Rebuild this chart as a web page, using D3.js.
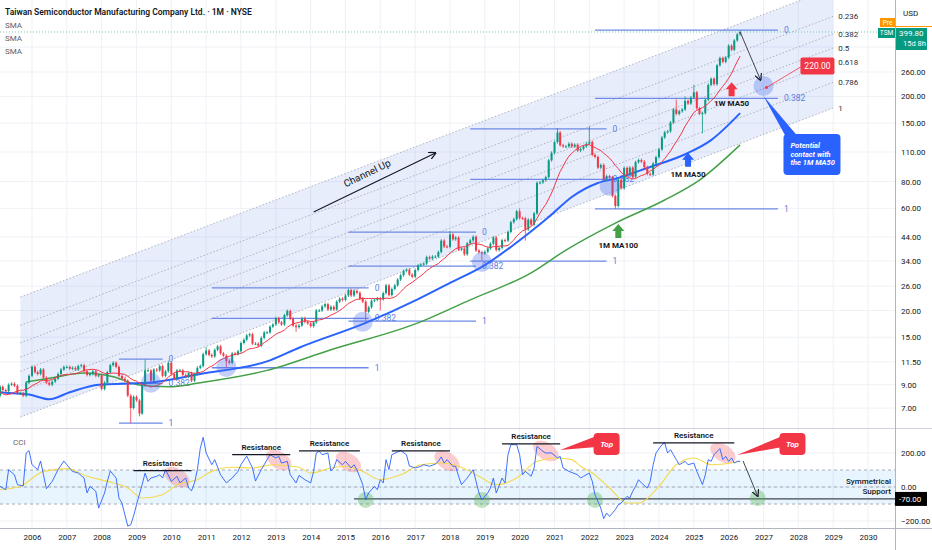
<!DOCTYPE html>
<html>
<head>
<meta charset="utf-8">
<script src="https://cdn.jsdelivr.net/npm/d3@7"></script>
<style>
body { margin: 0; background: #fff; }
svg { display: block; font-family: Roboto, "Noto Sans", sans-serif; }
</style>
</head>
<body>
<svg id="chart" width="932" height="550"></svg>
<script>
// monthly closes, Jan 2004 .. May 2026 (2004 only feeds the 1W MA50 line)
var closes = [
  10.2, 10.3, 10.4, 9.4, 8.6, 8.3, 7.3, 7.2, 7.1, 8.0, 8.2, 8.5,
  8.0, 8.8, 8.5, 8.4, 9.0, 9.1, 8.9, 8.2, 8.2, 8.0, 9.2, 9.9,
  10.9, 10.3, 10.1, 10.6, 9.7, 9.2, 9.0, 9.3, 9.6, 10.1, 10.6, 10.9,
  10.9, 10.7, 10.8, 10.6, 11.0, 11.1, 10.4, 10.0, 10.1, 10.4, 9.9, 9.96,
  8.6, 9.2, 10.3, 11.1, 11.4, 10.9, 9.9, 9.6, 9.4, 8.0, 7.0, 7.9,
  7.6, 6.6, 8.95, 10.5, 10.5, 9.4, 10.6, 10.5, 11.0, 9.9, 10.4, 11.4,
  10.1, 9.6, 10.5, 10.5, 10.0, 9.8, 10.2, 9.4, 10.1, 10.8, 11.0, 12.5,
  13.0, 12.4, 12.2, 13.1, 13.6, 12.6, 12.3, 11.6, 11.4, 12.6, 12.5, 12.9,
  14.1, 14.6, 15.3, 15.5, 14.0, 14.0, 13.7, 14.9, 15.8, 15.8, 16.8, 17.2,
  18.4, 17.6, 17.2, 19.0, 19.9, 18.3, 17.0, 16.7, 17.0, 18.4, 17.7, 17.4,
  16.9, 17.6, 20.0, 20.0, 20.9, 21.4, 20.2, 20.8, 20.2, 22.0, 22.7, 22.4,
  23.5, 24.9, 23.5, 24.7, 24.2, 22.7, 22.0, 19.7, 20.7, 22.2, 22.4, 22.75,
  22.6, 24.1, 26.2, 23.6, 25.2, 26.2, 27.9, 29.2, 30.6, 31.0, 29.4, 28.75,
  30.9, 32.5, 32.8, 33.1, 35.5, 35.0, 35.7, 35.7, 37.5, 42.4, 39.8, 39.65,
  45.3, 43.0, 43.8, 38.5, 38.9, 36.6, 41.2, 42.5, 44.2, 38.1, 37.4, 36.9,
  37.6, 39.0, 41.0, 43.8, 38.3, 39.2, 42.6, 42.4, 46.5, 51.7, 53.4, 58.1,
  54.0, 53.9, 47.8, 53.1, 50.3, 56.8, 78.9, 79.3, 81.1, 83.9, 100.6, 109.0,
  122.3, 135.6, 118.3, 116.8, 116.8, 120.2, 116.6, 119.0, 111.6, 113.7, 116.8, 120.3,
  122.6, 106.6, 104.3, 92.9, 95.7, 81.8, 84.8, 83.7, 68.6, 61.5, 81.7, 74.5,
  92.7, 85.9, 93.0, 84.3, 98.6, 100.9, 99.2, 93.5, 86.9, 86.3, 97.2, 104.0,
  113.0, 128.6, 136.0, 137.3, 151.1, 173.8, 165.7, 170.5, 173.7, 190.6, 185.2, 197.5,
  209.0, 176.0, 166.0, 167.0, 193.0, 226.5, 241.6, 228.0, 279.3, 302.0, 290.0, 304.0,
  345.0, 330.0, 365.0, 390.0, 399.8
];
var lastPrice = 399.8;

// notable wick extremes
var wickHighMonths = ["2009-04", "2011-01", "2018-01", "2020-01", "2021-02", "2022-01", "2024-07", "2024-10", "2025-01", "2026-05"];
var wickHighValues = [11.8, 13.5, 47.0, 60.0, 142.2, 145.0, 193.5, 200.0, 226.4, 408];
var wickLowMonths = ["2008-11", "2009-02", "2011-08", "2013-08", "2015-08", "2016-01", "2018-12", "2020-03", "2022-10", "2025-04"];
var wickLowValues = [5.96, 6.4, 10.8, 15.9, 17.9, 20.0, 34.2, 42.4, 59.6, 134.3];

// 1M MA50 (blue) and 1M MA100 (green)
var ma50Months = ["2004-11", "2005-02", "2005-12", "2006-07", "2007-02", "2007-12", "2009-05", "2010-11", "2012-11", "2013-09", "2015-08", "2017-02", "2018-01", "2019-01", "2019-10", "2020-11", "2021-07", "2022-04", "2022-11", "2023-09", "2024-11", "2025-07", "2026-05"];
var ma50Values = [8.4, 8.3, 8.1, 7.7, 8.3, 9.0, 9.2, 10.1, 11.7, 13.4, 17.5, 22.6, 26.9, 32.6, 39.6, 54.6, 67.8, 78.8, 83.2, 92.6, 108.8, 125, 167];
var ma100Months = ["2005-11", "2006-08", "2007-07", "2008-05", "2009-02", "2009-12", "2010-11", "2012-10", "2014-08", "2017-02", "2018-08", "2020-05", "2021-05", "2022-10", "2024-03", "2025-03", "2026-05"];
var ma100Values = [9.26, 9.7, 10.2, 9.8, 8.97, 8.8, 9.2, 10.5, 13.1, 17.5, 22.4, 30, 38.3, 51.2, 65.6, 81.3, 118.7];

// CCI readings, months counted from Jan 2005
var cciMonths = [1,3,4,6,7,9,10,11,12,14,15,16,17,19,21,23,24,26,28,30,31,32,34,35,37,38,39,41,42,43,45,46,47,48,50,51,52,53,55,56,57,58,60,62,63,65,66,67,68,69,70,71,72,74,75,77,79,81,83,84,86,88,89,91,93,94,96,97,98,100,101,103,104,106,108,109,110,111,112,114,115,116,117,119,120,122,123,124,126,127,128,130,131,132,133,134,135,136,138,139,141,142,144,146,147,149,151,152,153,154,155,157,158,159,160,162,164,165,166,167,169,170,171,172,174,175,176,177,179,180,181,182,184,185,186,188,189,191,193,194,195,197,200,201,202,204,205,206,208,209,210,211,212,213,214,215,217,218,219,220,221,222,224,225,226,227,229,230,231,232,233,235,236,237,238,240,241,243,244,245,246,247,249,250,251,252,253,254,255,256];
var cciValues = [4,-16,102,72,14,6,200,214,131,102,153,72,-10,33,102,153,131,92,82,53,-35,4,-25,-124,-35,33,94,53,-65,-94,-230,-222,-171,-104,14,82,33,53,63,72,53,102,33,63,24,53,-6,-22,24,102,229,292,200,131,161,72,24,53,92,131,182,112,35,102,161,190,171,180,141,151,72,24,68,43,24,92,200,210,190,200,94,112,161,131,151,112,131,102,14,-75,-35,4,-16,43,24,161,102,190,206,214,190,124,112,122,131,122,135,151,177,141,161,122,122,63,14,53,102,33,-35,-75,-35,-6,53,-35,53,24,190,249,249,190,72,92,63,112,239,210,200,200,171,180,112,92,72,53,63,82,33,-45,-124,-186,-153,-173,-153,-133,-104,-94,-55,-65,-25,4,43,24,-6,33,131,200,249,259,200,220,190,131,141,151,131,141,92,14,72,161,151,190,226,161,180,151,171,141,151,151];
var signalMonths = [1,8,16,24,31,38,45,50,57,62,69,74,81,88,95,101,104,108,115,120,126,132,139,146,153,159,166,172,179,186,193,198,201,205,211,217,221,228,234,240,246,253,256];
var signalValues = [-16,4,92,108,63,33,-6,-65,-45,14,43,92,116,112,131,122,116,82,112,122,92,43,72,131,141,122,63,14,53,151,171,161,122,82,-6,-94,-94,4,131,171,131,141,151];

// axes (340 sits under the TSM tag in the original, so it is left out)
var yearTicks = [2006,2007,2008,2009,2010,2011,2012,2013,2014,2015,2016,2017,2018,2019,2020,2021,2022,2023,2024,2025,2026,2027,2028,2029,2030];
var priceTicks = [260, 200, 150, 110, 80, 60, 44, 34, 26, 20, 15, 11.5, 9, 7];
var gridPrices = [340, 260, 200, 150, 110, 80, 60, 44, 34, 26, 20, 15, 11.5, 9, 7];
var cciTicks = [200, 0, -200];
var cciBand = [100, -100];

// parallel channel
var channelMonths = ["2005-09", "2029-01"];
var channelTop = [23.1, 642];
var channelBottom = [6.35, 176.6];
var channelLevels = [0, 0.236, 0.382, 0.5, 0.618, 0.786, 1];

// fib retracements, one per cycle
var fibStart = ["2008-07", "2011-03", "2015-02", "2018-08", "2022-03"];
var fibEnd = ["2009-10", "2015-09", "2018-10", "2022-07", "2027-06"];
var fibHigh = [11.86, 25.5, 46.5, 141, 408];
var fibLow = [5.96, 10.8, 17.85, 34.0, 59.6];
var fibLevels = [0, 0.382, 1];

// MA contact circles
var contactMonths = ["2009-06", "2011-08", "2015-07", "2018-12", "2022-08", "2027-01"];
var contactPrices = [9.2, 10.9, 17.7, 33.7, 76.3, 223.7];

var maTags = ["1W MA50", "1M MA50", "1M MA100"];
var maTagMonths = ["2026-02", "2024-11", "2022-11"];
var maTagPrices = [233, 109, 50.7];
var maTagColors = ["#f23645", "#2962ff", "#43a047"];

var channelArrowMonths = ["2014-02", "2017-08"];
var channelArrowPrices = [57.7, 108.8];
var projectionMonths = ["2026-05", "2026-12"];
var projectionPrices = [400, 238.6];
var targetMonth = "2027-02", targetPrice = 220;
var calloutMonth = "2027-01", calloutPrice = 201;

// CCI drawings
var resStart = ["2008-12", "2011-10", "2013-09", "2016-05", "2019-07", "2023-11"];
var resEnd = ["2010-08", "2013-06", "2015-06", "2018-01", "2021-03", "2026-03"];
var resLevel = [96, 190, 213, 213, 254, 259];
var topZoneMonths = ["2010-03", "2013-02", "2015-02", "2017-12", "2020-10", "2025-11"];
var topZoneValues = [59, 159, 147, 153, 212, 200];
var bottomZoneMonths = ["2015-08", "2018-12", "2022-03", "2026-11"];
var bottomZoneValues = [-76, -76, -76, -65];
var supportStart = "2015-04", supportLevel = -70;
var cciArrowMonths = ["2026-06", "2026-11"];
var cciArrowValues = [153, -53];
var topTipMonths = ["2021-03", "2026-04"];
var topTipValues = [218, 188];
var topBoxMonths = ["2022-07", "2027-11"];
var topBoxValue = 253;

function md(s) { var p = s.split("-"); return new Date(+p[0], +p[1] - 1, 1); }

var plotRight = 895, mainBottom = 428, cciBottom = 528;

var x = d3.scaleTime().domain([new Date(2006, 0, 1), new Date(2030, 0, 1)]).range([32, 868]);
var y = d3.scaleLog().domain([5.65, 564]).range([mainBottom, 0]);
var yc = d3.scaleLinear().domain([-241, 347]).range([cciBottom, mainBottom]);

var svg = d3.select("#chart");
svg.append("rect").attr("width", 932).attr("height", 550).attr("fill", "#fff");

var defs = svg.append("defs");
defs.append("clipPath").attr("id", "clipMain").append("rect")
    .attr("x", 0).attr("y", 0).attr("width", plotRight).attr("height", mainBottom);
defs.append("clipPath").attr("id", "clipCci").append("rect")
    .attr("x", 0).attr("y", mainBottom).attr("width", plotRight).attr("height", cciBottom - mainBottom);
defs.append("marker").attr("id", "head").attr("viewBox", "0 0 8 8").attr("refX", 7).attr("refY", 4)
    .attr("markerWidth", 7).attr("markerHeight", 7).attr("orient", "auto")
  .append("path").attr("d", "M0,0 L8,4 L0,8").attr("fill", "none").attr("stroke", "#131722").attr("stroke-width", 1.3);

// grid
var grid = svg.append("g").attr("stroke", "#eef1f6").attr("stroke-width", 1);
yearTicks.forEach(function (yr) {
    grid.append("line").attr("x1", x(new Date(yr, 0, 1))).attr("x2", x(new Date(yr, 0, 1)))
        .attr("y1", 0).attr("y2", cciBottom);
});
gridPrices.forEach(function (p) {
    grid.append("line").attr("x1", 0).attr("x2", plotRight).attr("y1", y(p)).attr("y2", y(p));
});
cciTicks.forEach(function (v) {
    grid.append("line").attr("x1", 0).attr("x2", plotRight).attr("y1", yc(v)).attr("y2", yc(v));
});

var main = svg.append("g").attr("clip-path", "url(#clipMain)");

// channel
var cx0 = x(md(channelMonths[0])), cx1 = x(md(channelMonths[1]));
var cTop0 = y(channelTop[0]), cTop1 = y(channelTop[1]);
var cBot0 = y(channelBottom[0]), cBot1 = y(channelBottom[1]);
main.append("path")
    .attr("d", "M" + cx0 + "," + cTop0 + "L" + cx1 + "," + cTop1 + "L" + cx1 + "," + cBot1 + "L" + cx0 + "," + cBot0 + "Z")
    .attr("fill", "rgba(80,115,230,0.13)");
channelLevels.forEach(function (lv) {
    var ya = cTop0 + lv * (cBot0 - cTop0), yb = cTop1 + lv * (cBot1 - cTop1);
    main.append("line").attr("x1", cx0).attr("y1", ya).attr("x2", cx1).attr("y2", yb)
        .attr("stroke", "#9da1ad").attr("stroke-width", 0.8).attr("stroke-dasharray", "1.5,2");
    if (lv > 0) {
        svg.append("text").attr("x", cx1 + 5).attr("y", yb + 3).attr("font-size", 8)
            .attr("fill", "#2a2e39").text(String(lv));
    }
});

// last price dotted line
main.append("line").attr("x1", 0).attr("x2", plotRight).attr("y1", y(lastPrice)).attr("y2", y(lastPrice))
    .attr("stroke", "#7cc8a8").attr("stroke-width", 1).attr("stroke-dasharray", "1,2");

// fib retracements
fibStart.forEach(function (s, i) {
    var xa = x(md(s)), xb = x(md(fibEnd[i]));
    var lh = Math.log(fibHigh[i]), ll = Math.log(fibLow[i]);
    fibLevels.forEach(function (lv) {
        var yy = y(Math.exp(lh + lv * (ll - lh)));
        main.append("line").attr("x1", xa).attr("x2", xb).attr("y1", yy).attr("y2", yy)
            .attr("stroke", "#6d8ae6").attr("stroke-width", 1.3);
        main.append("text").attr("x", xb + 6).attr("y", yy + 3).attr("font-size", 8.5)
            .attr("fill", "#5b7ee0").text(String(lv));
    });
});

// moving averages
var lineMonthly = d3.line().curve(d3.curveMonotoneX)
    .x(function (d) { return x(d[0]); }).y(function (d) { return y(d[1]); });
main.append("path").datum(ma100Months.map(function (m, i) { return [md(m), ma100Values[i]]; }))
    .attr("d", lineMonthly).attr("fill", "none").attr("stroke", "#43a047").attr("stroke-width", 1.5);
main.append("path").datum(ma50Months.map(function (m, i) { return [md(m), ma50Values[i]]; }))
    .attr("d", lineMonthly).attr("fill", "none").attr("stroke", "#2962ff").attr("stroke-width", 2);

// candles
var highMap = {}, lowMap = {};
wickHighMonths.forEach(function (m, i) { highMap[m] = wickHighValues[i]; });
wickLowMonths.forEach(function (m, i) { lowMap[m] = wickLowValues[i]; });
var candles = closes.map(function (c, i) {
    var d = new Date(2004, i, 1);
    var key = d.getFullYear() + "-" + String(d.getMonth() + 1).padStart(2, "0");
    var o = i > 0 ? closes[i - 1] : c;
    return { date: d, open: o, close: c,
             high: highMap[key] || Math.max(o, c), low: lowMap[key] || Math.min(o, c) };
});
var cg = main.append("g");
candles.forEach(function (d) {
    var cx = x(d.date);
    var col = d.close >= d.open ? "#089981" : "#f23645";
    var yTop = y(Math.max(d.open, d.close)), yBot = y(Math.min(d.open, d.close));
    cg.append("line").attr("x1", cx).attr("x2", cx)
        .attr("y1", Math.min(y(d.high), yTop - 1.5)).attr("y2", Math.max(y(d.low), yBot + 1.5))
        .attr("stroke", col).attr("stroke-width", 0.8);
    cg.append("rect").attr("x", cx - 1).attr("width", 2)
        .attr("y", yTop).attr("height", Math.max(1, yBot - yTop)).attr("fill", col);
});

// 1W MA50 approximated on monthly closes
var redPts = [];
closes.forEach(function (c, i) {
    if (i >= 11) {
        redPts.push([new Date(2004, i, 1), d3.mean(closes.slice(i - 11, i + 1))]);
    }
});
main.append("path").datum(redPts)
    .attr("d", d3.line().x(function (d) { return x(d[0]); }).y(function (d) { return y(d[1]); }))
    .attr("fill", "none").attr("stroke", "#f23645").attr("stroke-width", 1);

// contact circles
contactMonths.forEach(function (m, i) {
    main.append("circle").attr("cx", x(md(m))).attr("cy", y(contactPrices[i])).attr("r", 10)
        .attr("fill", "rgba(70,110,235,0.32)");
});

// MA arrow tags
maTags.forEach(function (t, i) {
    var tx = x(md(maTagMonths[i])), ty = y(maTagPrices[i]);
    main.append("path")
        .attr("d", "M" + tx + "," + ty + "l6,7 l-3,0 l0,7 l-6,0 l0,-7 l-3,0 Z")
        .attr("fill", maTagColors[i]);
    main.append("text").attr("x", tx).attr("y", ty + 24).attr("text-anchor", "middle")
        .attr("font-size", 8).attr("font-weight", 700).attr("fill", "#131722").text(t);
});

// channel up arrow and text
var ca0 = [x(md(channelArrowMonths[0])), y(channelArrowPrices[0])];
var ca1 = [x(md(channelArrowMonths[1])), y(channelArrowPrices[1])];
main.append("line").attr("x1", ca0[0]).attr("y1", ca0[1]).attr("x2", ca1[0]).attr("y2", ca1[1])
    .attr("stroke", "#131722").attr("stroke-width", 1.1).attr("marker-end", "url(#head)");
var ang = Math.atan2(ca1[1] - ca0[1], ca1[0] - ca0[0]);
var midX = (ca0[0] + ca1[0]) / 2 + Math.sin(ang) * 9 - 2, midY = (ca0[1] + ca1[1]) / 2 - Math.cos(ang) * 9 + 2;
main.append("text").attr("transform", "translate(" + midX + "," + midY + ") rotate(" + (ang * 180 / Math.PI) + ")")
    .attr("text-anchor", "middle").attr("font-size", 10).attr("fill", "#131722").text("Channel Up");

// projection arrow to target
var pr0 = [x(md(projectionMonths[0])), y(projectionPrices[0])];
var pr1 = [x(md(projectionMonths[1])), y(projectionPrices[1])];
main.append("line").attr("x1", pr0[0]).attr("y1", pr0[1]).attr("x2", pr1[0]).attr("y2", pr1[1])
    .attr("stroke", "#434651").attr("stroke-width", 1).attr("marker-end", "url(#head)");

// target label
var tg = [x(md(targetMonth)), y(targetPrice)];
main.append("line").attr("x1", tg[0]).attr("y1", tg[1]).attr("x2", tg[0] + 35).attr("y2", tg[1] - 21)
    .attr("stroke", "#f23645").attr("stroke-width", 0.8);
main.append("circle").attr("cx", tg[0]).attr("cy", tg[1]).attr("r", 1.5).attr("fill", "#f23645");
main.append("rect").attr("x", tg[0] + 34).attr("y", tg[1] - 30).attr("width", 34).attr("height", 17)
    .attr("rx", 2).attr("fill", "#f23645");
main.append("text").attr("x", tg[0] + 51).attr("y", tg[1] - 18.5).attr("text-anchor", "middle")
    .attr("font-size", 8.5).attr("fill", "#fff").text(targetPrice.toFixed(2));

// callout
var co = [x(md(calloutMonth)), y(calloutPrice)];
main.append("path").attr("d", "M" + co[0] + "," + co[1] + "L" + (co[0] + 22) + "," + (co[1] + 40) + "L" + (co[0] + 34) + "," + (co[1] + 40) + "Z")
    .attr("fill", "#2962ff");
main.append("rect").attr("x", co[0] + 20).attr("y", co[1] + 38).attr("width", 57).attr("height", 41)
    .attr("rx", 4).attr("fill", "#2962ff");
["Potential", "contact with", "the 1M MA50"].forEach(function (t, i) {
    main.append("text").attr("x", co[0] + 27).attr("y", co[1] + 52 + i * 8.7)
        .attr("font-size", 7.5).attr("font-weight", 700).attr("font-style", "italic")
        .attr("fill", "#fff").text(t);
});

// ---- CCI pane ----
var cci = svg.append("g").attr("clip-path", "url(#clipCci)");
cci.append("rect").attr("x", 0).attr("width", plotRight)
    .attr("y", yc(cciBand[0])).attr("height", yc(cciBand[1]) - yc(cciBand[0]))
    .attr("fill", "rgba(33,150,243,0.1)");
[cciBand[0], 0, cciBand[1]].forEach(function (v) {
    cci.append("line").attr("x1", 0).attr("x2", plotRight).attr("y1", yc(v)).attr("y2", yc(v))
        .attr("stroke", "#9598a1").attr("stroke-width", 0.8).attr("stroke-dasharray", "3,3");
});
cci.append("line").attr("x1", x(md(supportStart))).attr("x2", plotRight)
    .attr("y1", yc(supportLevel)).attr("y2", yc(supportLevel))
    .attr("stroke", "#434651").attr("stroke-width", 1.3);

topZoneMonths.forEach(function (m, i) {
    cci.append("ellipse").attr("transform", "translate(" + x(md(m)) + "," + yc(topZoneValues[i]) + ") rotate(32)")
        .attr("rx", 14).attr("ry", 8.5).attr("fill", "rgba(242,54,69,0.25)");
});
bottomZoneMonths.forEach(function (m, i) {
    cci.append("circle").attr("cx", x(md(m))).attr("cy", yc(bottomZoneValues[i])).attr("r", 8)
        .attr("fill", "rgba(76,175,80,0.35)");
});

var base2005 = function (i) { return new Date(2005, i, 1); };
cci.append("path").datum(signalMonths.map(function (m, i) { return [base2005(m), signalValues[i]]; }))
    .attr("d", d3.line().curve(d3.curveMonotoneX).x(function (d) { return x(d[0]); }).y(function (d) { return yc(d[1]); }))
    .attr("fill", "none").attr("stroke", "#f5d94e").attr("stroke-width", 1.1);
cci.append("path").datum(cciMonths.map(function (m, i) { return [base2005(m), cciValues[i]]; }))
    .attr("d", d3.line().x(function (d) { return x(d[0]); }).y(function (d) { return yc(d[1]); }))
    .attr("fill", "none").attr("stroke", "#2962ff").attr("stroke-width", 0.9);

resStart.forEach(function (s, i) {
    var xa = x(md(s)), xb = x(md(resEnd[i])), yy = yc(resLevel[i]);
    cci.append("line").attr("x1", xa).attr("x2", xb).attr("y1", yy).attr("y2", yy)
        .attr("stroke", "#131722").attr("stroke-width", 1.3);
    cci.append("text").attr("x", (xa + xb) / 2).attr("y", yy - 5).attr("text-anchor", "middle")
        .attr("font-size", 8).attr("font-weight", 600).attr("fill", "#131722").text("Resistance");
});

topTipMonths.forEach(function (m, i) {
    var tx = x(md(m)), ty = yc(topTipValues[i]);
    var bx = x(md(topBoxMonths[i])), by = yc(topBoxValue);
    cci.append("path").attr("d", "M" + tx + "," + ty + "L" + (bx - 10) + "," + (by - 8) + "L" + (bx - 10) + "," + (by + 3) + "Z")
        .attr("fill", "#f23645");
    cci.append("rect").attr("x", bx - 13).attr("y", by - 11).attr("width", 26).attr("height", 22)
        .attr("rx", 4).attr("fill", "#f23645");
    cci.append("text").attr("x", bx).attr("y", by + 3).attr("text-anchor", "middle")
        .attr("font-size", 8).attr("font-weight", 700).attr("font-style", "italic")
        .attr("fill", "#fff").text("Top");
});

cci.append("line")
    .attr("x1", x(md(cciArrowMonths[0]))).attr("y1", yc(cciArrowValues[0]))
    .attr("x2", x(md(cciArrowMonths[1]))).attr("y2", yc(cciArrowValues[1]))
    .attr("stroke", "#434651").attr("stroke-width", 1).attr("marker-end", "url(#head)");

svg.append("text").attr("x", 891).attr("y", 484).attr("text-anchor", "end")
    .attr("font-size", 8).attr("font-weight", 500).attr("fill", "#131722").text("Symmetrical");
svg.append("text").attr("x", 891).attr("y", 494).attr("text-anchor", "end")
    .attr("font-size", 8).attr("font-weight", 500).attr("fill", "#131722").text("Support");
svg.append("text").attr("x", 13).attr("y", 445).attr("font-size", 8).attr("fill", "#5d606b").text("CCI");

// pane borders
svg.append("line").attr("x1", 0).attr("x2", 932).attr("y1", mainBottom + 0.5).attr("y2", mainBottom + 0.5).attr("stroke", "#d1d4dc");
svg.append("line").attr("x1", 0).attr("x2", 932).attr("y1", cciBottom + 0.5).attr("y2", cciBottom + 0.5).attr("stroke", "#b2b5be");
svg.append("line").attr("x1", plotRight + 0.5).attr("x2", plotRight + 0.5).attr("y1", 0).attr("y2", 550).attr("stroke", "#b2b5be");

// axes
var pa = svg.append("g").attr("transform", "translate(" + plotRight + ",0)")
    .call(d3.axisRight(y).tickValues(priceTicks).tickFormat(d3.format(".2f")).tickSize(0).tickPadding(6));
var ca = svg.append("g").attr("transform", "translate(" + plotRight + ",0)")
    .call(d3.axisRight(yc).tickValues(cciTicks).tickFormat(d3.format(".2f")).tickSize(0).tickPadding(6));
var ta = svg.append("g").attr("transform", "translate(0," + cciBottom + ")")
    .call(d3.axisBottom(x).tickValues(yearTicks.map(function (yr) { return new Date(yr, 0, 1); }))
        .tickFormat(d3.timeFormat("%Y")).tickSize(0).tickPadding(6));
[pa, ca, ta].forEach(function (g) {
    g.select(".domain").remove();
    g.selectAll("text").attr("font-size", 8).attr("fill", "#131722").attr("font-family", "Roboto, sans-serif");
});

// -70 label
svg.append("rect").attr("x", plotRight).attr("y", yc(supportLevel) - 7).attr("width", 32).attr("height", 14).attr("fill", "#000");
svg.append("text").attr("x", plotRight + 4).attr("y", yc(supportLevel) + 3).attr("font-size", 8)
    .attr("fill", "#fff").text(supportLevel.toFixed(2));

// price tags
var ly = y(lastPrice);
svg.append("text").attr("x", 903).attr("y", 16).attr("font-size", 8).attr("fill", "#131722").text("USD");
svg.append("rect").attr("x", 880).attr("y", ly - 14).attr("width", 15).attr("height", 9).attr("fill", "#ff9800");
svg.append("text").attr("x", 887.5).attr("y", ly - 7).attr("text-anchor", "middle").attr("font-size", 6.5).attr("fill", "#fff").text("Pre");
svg.append("line").attr("x1", plotRight).attr("x2", 932).attr("y1", ly - 5.5).attr("y2", ly - 5.5).attr("stroke", "#ff9800");
svg.append("rect").attr("x", 878).attr("y", ly - 4).attr("width", 17).attr("height", 10).attr("fill", "#089981");
svg.append("text").attr("x", 886.5).attr("y", ly + 3.5).attr("text-anchor", "middle").attr("font-size", 6.5).attr("fill", "#fff").text("TSM");
svg.append("rect").attr("x", plotRight + 1).attr("y", ly - 4).attr("width", 31).attr("height", 22).attr("fill", "#089981");
svg.append("text").attr("x", 899).attr("y", ly + 4).attr("font-size", 8).attr("fill", "#fff").text(lastPrice.toFixed(2));
svg.append("text").attr("x", 903).attr("y", ly + 14).attr("font-size", 7.5).attr("fill", "#fff").text("15d 8h");

// header
svg.append("text").attr("x", 5).attr("y", 15).attr("font-size", 8.5).attr("font-weight", 600)
    .attr("fill", "#131722").text("Taiwan Semiconductor Manufacturing Company Ltd. · 1M · NYSE");
["SMA", "SMA", "SMA"].forEach(function (t, i) {
    svg.append("text").attr("x", 5).attr("y", 28 + i * 13).attr("font-size", 8).attr("fill", "#5d606b").text(t);
});
</script>
</body>
</html>
